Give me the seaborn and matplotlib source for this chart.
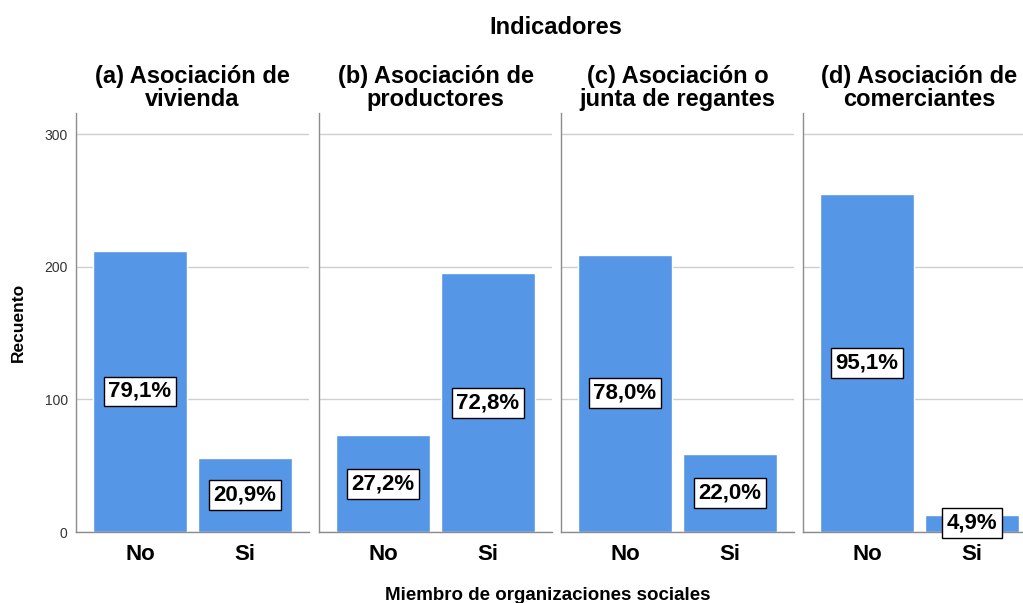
import pandas as pd
import matplotlib.pyplot as plt
import seaborn as sns

# data (counts out of 268 cases)
panel_titles = ["(a) Asociación de\nvivienda",
                "(b) Asociación de\nproductores",
                "(c) Asociación o\njunta de regantes",
                "(d) Asociación de\ncomerciantes"]
categories = ["No", "Si"]
counts = [[212, 56], [73, 195], [209, 59], [255, 13]]
pct_labels = [["79,1%", "20,9%"], ["27,2%", "72,8%"],
              ["78,0%", "22,0%"], ["95,1%", "4,9%"]]

sns.set_style("white")
plt.rcParams["font.family"] = ["Liberation Sans", "DejaVu Sans"]
plt.rcParams["text.color"] = "black"
plt.rcParams["axes.labelcolor"] = "black"

W, H = 1023, 603
fig = plt.figure(figsize=(W / 100, H / 100), dpi=100)

bar_color = "#5596e6"
axis_gray = "#8c8c8c"
grid_gray = "#cfcfcf"

panel_left = [76, 319, 561, 803]
panel_w = 233
top, bottom = 113, 532

for i, title in enumerate(panel_titles):
    ax = fig.add_axes([panel_left[i] / W, (H - bottom) / H,
                       panel_w / W, (bottom - top) / H])
    df = pd.DataFrame({"Miembro": categories, "Recuento": counts[i]})
    sns.barplot(data=df, x="Miembro", y="Recuento", color=bar_color,
                saturation=1, width=0.895, ax=ax)
    ax.bar_label(ax.containers[0], labels=pct_labels[i], label_type="center",
                 fontsize=16, fontweight="bold", color="black",
                 bbox=dict(boxstyle="square,pad=0.2", fc="white",
                           ec="black", lw=1))
    ax.set_xlim(-0.61, 1.61)
    ax.set_ylim(0, 316)
    ax.set_yticks([0, 100, 200, 300])
    ax.yaxis.grid(True, color=grid_gray, lw=1)
    ax.set_axisbelow(True)
    for s in ["top", "right"]:
        ax.spines[s].set_visible(False)
    for s in ["left", "bottom"]:
        ax.spines[s].set_color(axis_gray)
        ax.spines[s].set_linewidth(1)
    ax.tick_params(axis="x", length=0, pad=9, labelsize=16,
                   labelcolor="black")
    for t in ax.get_xticklabels():
        t.set_fontweight("bold")
    ax.set_xlabel("")
    if i == 0:
        ax.tick_params(axis="y", length=5, width=1, color=axis_gray,
                       pad=1, labelsize=10, labelcolor="#333333")
        ax.set_ylabel("Recuento", fontsize=12.5, fontweight="bold",
                      labelpad=13, color="black")
    else:
        ax.tick_params(axis="y", length=0, labelleft=False)
        ax.set_ylabel("")
    ax.set_title(title, fontsize=17, fontweight="bold", pad=5,
                 linespacing=1.0, color="black")

fig.text(556 / W, 1 - 27 / H, "Indicadores", ha="center", va="center",
         fontsize=17, fontweight="bold", color="black")
fig.text(548 / W, 1 - 595 / H, "Miembro de organizaciones sociales",
         ha="center", va="center", fontsize=13.5, fontweight="bold",
         color="black")

fig.savefig("out.png", dpi=100)
